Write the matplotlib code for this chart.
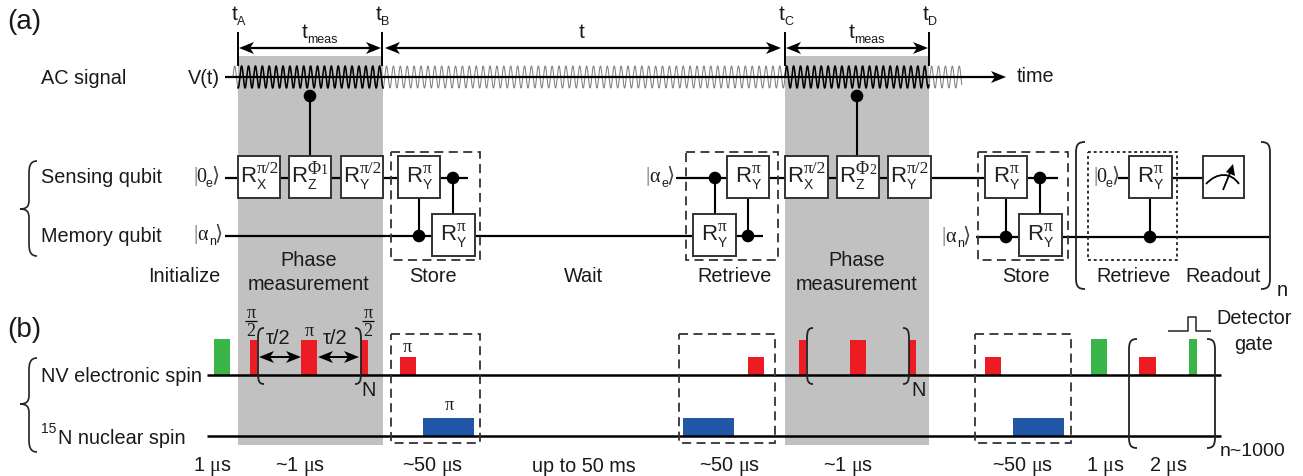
import numpy as np
import matplotlib
matplotlib.use("Agg")
import matplotlib.pyplot as plt
from matplotlib.patches import Rectangle, Circle, Polygon, PathPatch
from matplotlib.path import Path

plt.rcParams["mathtext.fontset"] = "custom"
plt.rcParams["mathtext.rm"] = "Liberation Sans"
plt.rcParams["mathtext.cal"] = "Liberation Serif"

SANS = "Liberation Sans"
SERIF = ["Liberation Serif", "DejaVu Sans"]
RED = "#ed1c24"
GREEN = "#39b54a"
BLUE = "#2157a6"
GRAY = "#c1c1c1"
INK = "#1a1a1a"
TEXT_SIZE = 14.3

# panel (a)
left_labels = ["AC signal", "Sensing qubit", "Memory qubit", "NV electronic spin"]
left_label_y = [79, 177.5, 237, 377]
time_marks = ["A", "B", "C", "D"]
time_mark_x = [238, 382, 785, 929]
windows = [(238, 383), (785, 929)]

# wires, [x start, x end, y]
wires = [(225, 238, 178), (280, 289, 178), (331, 341, 178), (383, 398, 178), (440, 468, 178),
         (676, 727, 178), (769, 785, 178), (828, 837, 178), (879, 888, 178), (931, 985, 178),
         (1027, 1058, 178), (1118, 1129, 178), (1172, 1203, 178),
         (225, 432, 236), (475, 693, 236), (736, 763, 236), (976, 1019, 237), (1062, 1269, 237)]

# gates, [box left, box top, box width, axis, angle]
gates = [(238, 156, 42, "X", "π/2"), (289, 156, 42, "Z", "Φ1"), (341, 156, 42, "Y", "π/2"),
         (398, 156, 42, "Y", "π"), (432, 214, 43, "Y", "π"),
         (727, 156, 42, "Y", "π"), (693, 214, 43, "Y", "π"),
         (785, 156, 43, "X", "π/2"), (837, 156, 42, "Z", "Φ2"), (888, 156, 43, "Y", "π/2"),
         (985, 156, 42, "Y", "π"), (1019, 214, 43, "Y", "π"),
         (1129, 156, 43, "Y", "π")]

# control links, [x, dot y, far end y]
links = [(310, 96, 156), (857, 96, 156), (453, 178, 214), (419, 236, 198), (715, 178, 214),
         (748, 236, 198), (1006, 237, 198), (1040, 178, 214), (1150, 237, 198)]

# dashed blocks, [x0, y0, x1, y1]
dashed_a = [(391, 152, 480, 260), (686, 152, 778, 260), (978, 152, 1068, 260)]
dashed_b = [(391, 334, 480, 443), (679, 334, 775, 443), (975, 334, 1071, 443)]

stage_labels = ["Initialize", "Store", "Wait", "Retrieve", "Store", "Retrieve", "Readout"]
stage_x = [184, 433, 583, 735, 1026, 1134, 1223]

# panel (b) pulses, [x0, x1]
green_pulses = [(214, 230), (1091, 1107), (1189, 1197)]
red_tall = [(250, 257), (301, 317), (361, 368), (799, 806), (850, 866), (909, 916)]
red_short = [(400, 416), (748, 764), (985, 1001), (1139, 1156)]
blue_pulses = [(423, 474), (683, 734), (1013, 1064)]

duration_labels = ["1 $\\mathcal{μ}$s", "~1 $\\mathcal{μ}$s", "~50 $\\mathcal{μ}$s", "up to 50 ms",
                   "~50 $\\mathcal{μ}$s", "~1 $\\mathcal{μ}$s", "~50 $\\mathcal{μ}$s",
                   "1 $\\mathcal{μ}$s", "2 $\\mathcal{μ}$s"]
duration_x = [212, 300, 433, 584, 730, 848, 1023, 1105, 1168]

# AC signal look
signal_start, signal_end = 233, 962
signal_period = 6.9
signal_amp = 11

fig = plt.figure(figsize=(13.03, 4.76), dpi=100)
ax = fig.add_axes([0, 0, 1, 1])
ax.set_xlim(0, 1303)
ax.set_ylim(476, 0)
ax.axis("off")


def label(x, y, s, size=TEXT_SIZE, ha="center", va="center", family=SANS, color=INK, z=6):
    ax.text(x, y, s, fontsize=size, ha=ha, va=va, family=family, color=color, zorder=z)


def line(xs, ys, lw=1.6, color="black", z=2, **kw):
    ax.plot(xs, ys, lw=lw, color=color, zorder=z, solid_capstyle="butt", **kw)


def head(x, y, sign):
    # concave arrow head, tip at x, pointing in direction sign
    pts = [(x, y), (x - sign * 15, y - 6), (x - sign * 11, y), (x - sign * 15, y + 6)]
    ax.add_patch(Polygon(pts, closed=True, fc="black", ec="none", zorder=5))


def double_arrow(x0, x1, y, lw=1.6):
    line([x0 + 8, x1 - 8], [y, y], lw=lw, z=4)
    head(x0, y, -1)
    head(x1, y, 1)


def gate(x, y, w, axis_name, angle):
    ax.add_patch(Rectangle((x, y), w, 42, fc="white", ec="#333333", lw=1.4, zorder=3))
    r_x = x + 18 if len(angle) > 1 else x + 24
    label(r_x, y + 21, "R", size=16, ha="right", color="#222222")
    label(r_x + 0.5, y + 29, axis_name, size=10, ha="left", color="#222222")
    if angle.startswith("Φ"):
        label(r_x + 1, y + 13, "Φ", size=13, ha="left", family=SERIF, color="#222222")
        label(r_x + 14, y + 15, angle[1], size=10, ha="left", family=SERIF, color="#222222")
    else:
        label(r_x + 1, y + 13, angle, size=12.5, ha="left", family=SERIF, color="#222222")


def ket(x, y, sym, sub):
    sub_dx, end_dx = (12, 18) if sym == "0" else (16, 21)
    label(x, y - 1, "|", size=15, ha="left", family=SERIF, color="#666666")
    label(x + (3 if sym == "0" else 4), y, sym, size=14.5, ha="left", family=SERIF)
    label(x + sub_dx, y + 6, sub, size=9, ha="left")
    label(x + end_dx, y - 1, "⟩", size=15, ha="left", family=SERIF, color="#444444")


def brace(x_tip, x_spine, x_end, y0, y_tip, y1):
    verts = [(x_end, y0), (x_spine + 1, y0), (x_spine, y0 + 6), (x_spine, y0 + 12),
             (x_spine, y_tip - 9),
             (x_spine, y_tip - 3), (x_spine - 2, y_tip), (x_tip, y_tip),
             (x_spine - 2, y_tip), (x_spine, y_tip + 3), (x_spine, y_tip + 9),
             (x_spine, y1 - 12),
             (x_spine, y1 - 6), (x_spine + 1, y1), (x_end, y1)]
    codes = [Path.MOVETO, Path.CURVE4, Path.CURVE4, Path.CURVE4, Path.LINETO,
             Path.CURVE4, Path.CURVE4, Path.CURVE4, Path.CURVE4, Path.CURVE4, Path.CURVE4,
             Path.LINETO, Path.CURVE4, Path.CURVE4, Path.CURVE4]
    ax.add_patch(PathPatch(Path(verts, codes), fc="none", ec="#222222", lw=1.2, zorder=5))


def paren(x_spine, x_end, y0, y1, lw=1.3):
    # round bracket with straight spine and short curved ends
    verts = [(x_end, y0), (x_spine + (x_end - x_spine) * 0.2, y0), (x_spine, y0 + 3), (x_spine, y0 + 11),
             (x_spine, y1 - 11), (x_spine, y1 - 3), (x_spine + (x_end - x_spine) * 0.2, y1), (x_end, y1)]
    codes = [Path.MOVETO, Path.CURVE4, Path.CURVE4, Path.CURVE4, Path.LINETO, Path.CURVE4, Path.CURVE4, Path.CURVE4]
    ax.add_patch(PathPatch(Path(verts, codes), fc="none", ec="#222222", lw=lw, zorder=5))


# shaded measurement windows
for x0, x1 in windows:
    ax.add_patch(Rectangle((x0, 56), x1 - x0, 389, fc=GRAY, ec="none", zorder=0))

# AC signal, black while measuring
xs = np.arange(signal_start, signal_end, 0.25)
ys = 77 - signal_amp * np.sin(2 * np.pi * (xs - signal_start) / signal_period)
ax.plot(xs, ys, lw=0.75, color="#808080", zorder=1)
for x0, x1 in windows:
    on = (xs >= x0) & (xs <= x1)
    ax.plot(xs[on], ys[on], lw=1.1, color="black", zorder=1.5)

line([225, 995], [77, 77], z=2)
head(1006, 77, 1)

# time markers and arrows
for name, x in zip(time_marks, time_mark_x):
    line([x, x], [32, 66], lw=1.4, z=4)
    label(x - 3.5, 15, "t", size=15)
    label(x - 1, 22, name, size=9, ha="left")
double_arrow(239, 381, 48)
double_arrow(385, 781, 48)
double_arrow(786, 928, 48)
for x in [304.5, 852]:
    label(x, 33, "t", size=15)
    label(x + 2.5, 40, "meas", size=9, ha="left")
label(582, 33, "t", size=15)
label(1017, 77, "time", ha="left")
label(220, 78, "V(t)", ha="right")

# left labels and braces
for s, y in zip(left_labels, left_label_y):
    label(41, y, s, ha="left")
label(41, 429, "15", size=10, ha="left")
label(58, 438.5, "N nuclear spin", ha="left")
label(7, 22, "(a)", size=20, ha="left")
label(7, 330, "(b)", size=20, ha="left")
brace(20, 29, 37, 161, 209, 256)
brace(20, 29, 37, 358, 404, 452)

# circuit
for x0, x1, y in wires:
    line([x0, x1], [y, y])
for x, y, far in links:
    line([x, x], [y, far], lw=1.5, z=2.5)
    ax.add_patch(Circle((x, y), 6.3, fc="black", ec="none", zorder=4))
for x, y, w, name, angle in gates:
    gate(x, y, w, name, angle)
for x0, y0, x1, y1 in dashed_a + dashed_b:
    ax.add_patch(Rectangle((x0, y0), x1 - x0, y1 - y0, fc="none", ec="#333333", lw=1.3, ls=(0, (5, 3)), zorder=3.5))
ax.add_patch(Rectangle((1088, 152), 89, 108, fc="none", ec="#222222", lw=1.3, ls=(0, (1.6, 1.6)), zorder=3.5))

ket(193, 178, "0", "e")
ket(193, 236, "α", "n")
ket(645, 178, "α", "e")
ket(941, 238, "α", "n")
ket(1093, 178, "0", "e")

# readout meter
ax.add_patch(Rectangle((1203, 156), 41, 42, fc="white", ec="#333333", lw=1.4, zorder=3))
arc = Path([(1206, 184), (1217, 172), (1231, 172), (1239, 184)], [Path.MOVETO, Path.CURVE4, Path.CURVE4, Path.CURVE4])
ax.add_patch(PathPatch(arc, fc="none", ec="black", lw=1.3, zorder=4))
line([1223, 1232], [190, 168], lw=1.3, z=4)
ax.add_patch(Polygon([(1233, 164), (1235, 176), (1226, 172)], closed=True, fc="black", ec="none", zorder=4))

paren(1076, 1085, 142, 289)
paren(1270, 1261, 142, 289)
label(1282, 290, "n")

# stage labels
for s, x in zip(stage_labels, stage_x):
    label(x, 276, s)
for x in [309, 857]:
    label(x, 261, "Phase")
    label(x, 284, "measurement")

# panel (b) baselines and pulses
line([207, 1221], [375, 375], lw=1.8, z=3.2)
line([207, 1221], [436, 436], lw=1.8, z=3.2)
for x0, x1 in green_pulses:
    ax.add_patch(Rectangle((x0, 339), x1 - x0, 36, fc=GREEN, ec="none", zorder=3))
for x0, x1 in red_tall:
    ax.add_patch(Rectangle((x0, 340), x1 - x0, 35, fc=RED, ec="none", zorder=3))
for x0, x1 in red_short:
    ax.add_patch(Rectangle((x0, 357), x1 - x0, 18, fc=RED, ec="none", zorder=3))
for x0, x1 in blue_pulses:
    ax.add_patch(Rectangle((x0, 418), x1 - x0, 18, fc=BLUE, ec="none", zorder=3))

# pulse annotations
for x in [251, 368]:
    label(x, 313, "π", size=13, family=SERIF)
    line([x - 6, x + 6], [320.5, 320.5], lw=0.9, z=6)
    label(x, 331, "2", size=13, family=SERIF)
label(309, 331, "π", size=13, family=SERIF)
label(407, 347, "π", size=13, family=SERIF)
label(449, 406, "π", size=13, family=SERIF)
for x in [278, 335]:
    label(x, 338, "τ/2", size=14.5)
double_arrow(259, 301, 357, lw=1.4)
double_arrow(318, 359, 357, lw=1.4)

paren(258, 264, 328, 384)
paren(361, 355, 328, 384)
paren(807, 813, 328, 384)
paren(909, 903, 328, 384)
paren(1129, 1137, 339, 448)
paren(1215, 1207, 339, 448)
label(369, 390, "N")
label(919, 390, "N")
label(1220, 452, "n~1000", ha="left", size=14)

# detector gate
line([1168, 1188, 1188, 1196, 1196, 1211], [331, 331, 317, 317, 331, 331], lw=1.1, color="#222222")
label(1254, 319, "Detector")
label(1254, 345, "gate")

# durations
for s, x in zip(duration_labels, duration_x):
    label(x, 466, s)

fig.savefig("out.png", dpi=100)
